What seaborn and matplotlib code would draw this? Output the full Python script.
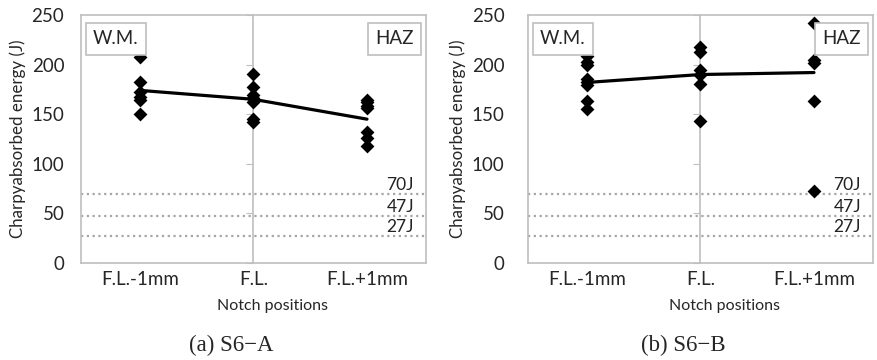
import matplotlib
matplotlib.use("Agg")
import matplotlib.pyplot as plt
import numpy as np
import pandas as pd
import seaborn as sns

# Notch positions (x = -1, 0, 1 on an Excel-like scatter axis)
positions = ["F.L.-1mm", "F.L.", "F.L.+1mm"]
pos_x = [-1, 0, 1]

# Individual Charpy values (J)
s6a_wm = [208, 182, 172, 167, 164, 150]
s6a_fl = [191, 177, 169, 166, 162, 145, 142]
s6a_haz = [164, 162, 158, 156, 132, 126, 118]
s6a_avg = [174, 165, 145]

s6b_wm = [209, 203, 200, 185, 182, 179, 163, 155]
s6b_fl = [218, 213, 195, 190, 180, 143]
s6b_haz = [242, 205, 202, 163, 73]
s6b_avg = [182, 190, 192]

ref_levels = [70, 47, 27]
ref_labels = ["70J", "47J", "27J"]
ytick_vals = [0, 50, 100, 150, 200, 250]

panels = [
    ("(a) S6\u2212A", [s6a_wm, s6a_fl, s6a_haz], s6a_avg),
    ("(b) S6\u2212B", [s6b_wm, s6b_fl, s6b_haz], s6b_avg),
]

sns.set_style("white")
plt.rcParams["font.family"] = ["Lato", "DejaVu Sans"]

fig = plt.figure(figsize=(8.78, 3.6), dpi=100)
ax_boxes = [[81 / 878, 97 / 360, 345 / 878, 248 / 360],
            [528 / 878, 97 / 360, 345 / 878, 248 / 360]]
tick_pad = [12, 17]
xlabel_pos = [0.554, 0.571]
caption_x = [231 / 878, 683 / 878]
border = "#BFBFBF"

for i, (caption, groups, avg) in enumerate(panels):
    ax = fig.add_axes(ax_boxes[i])
    rows = []
    for x, vals in zip(pos_x, groups):
        for v in vals:
            rows.append({"x": x, "energy": v})
    pts = pd.DataFrame(rows)
    means = pd.DataFrame({"x": pos_x, "energy": avg})

    for lvl, lab in zip(ref_levels, ref_labels):
        ax.axhline(lvl, color="#A6A6A6", lw=1.6, linestyle=(0, (1, 1.6)), zorder=1)
        ax.text(0.965, lvl + 1.0, lab, transform=ax.get_yaxis_transform(),
                ha="right", va="bottom", fontsize=12.5, color="#222222")

    sns.lineplot(data=means, x="x", y="energy", color="black", lw=2.3,
                 ax=ax, zorder=3)
    sns.scatterplot(data=pts, x="x", y="energy", marker="D", s=50,
                    color="black", edgecolor="black", linewidth=0, ax=ax, zorder=4)

    ax.set_xlim(-1.52, 1.52)
    ax.set_ylim(0, 250)
    ax.set_xticks(pos_x)
    ax.set_xticklabels(positions, fontsize=13.5)
    ax.set_yticks(ytick_vals)
    ax.tick_params(axis="y", length=0, pad=tick_pad[i], labelsize=13.5)
    ax.tick_params(axis="x", length=0, pad=6)
    for sp in ax.spines.values():
        sp.set_color(border)
        sp.set_linewidth(1.2)
    ax.set_ylabel("Charpyabsorbed energy (J)", fontsize=12.2, labelpad=4)
    ax.set_xlabel("Notch positions", fontsize=11.5)
    ax.xaxis.set_label_coords(xlabel_pos[i], -0.145)

    # central vertical axis at F.L. with inward tick marks
    ax2 = ax.twinx()
    ax2.set_ylim(0, 250)
    ax2.set_yticks(ytick_vals)
    ax2.spines["right"].set_position(("data", 0))
    ax2.spines["right"].set_color(border)
    ax2.spines["right"].set_linewidth(1.2)
    for s in ["left", "top", "bottom"]:
        ax2.spines[s].set_visible(False)
    ax2.tick_params(axis="y", direction="in", length=5, color=border,
                    labelright=False, right=True)
    ax2.set_zorder(0)
    ax.set_zorder(1)
    ax.patch.set_visible(False)

    box = dict(boxstyle="square,pad=0.4", fc="white", ec=border, lw=1.2)
    ax.text(0.035, 0.905, "W.M.", transform=ax.transAxes, fontsize=13.5,
            ha="left", va="center", bbox=box, zorder=5)
    ax.text(0.965, 0.905, "HAZ", transform=ax.transAxes, fontsize=13.5,
            ha="right", va="center", bbox=box, zorder=5)

    fig.text(caption_x[i], 1 - 345 / 360, caption, ha="center", va="center",
             fontsize=16.5, family=["Liberation Serif", "DejaVu Serif"])

fig.savefig("out.png", dpi=100)
